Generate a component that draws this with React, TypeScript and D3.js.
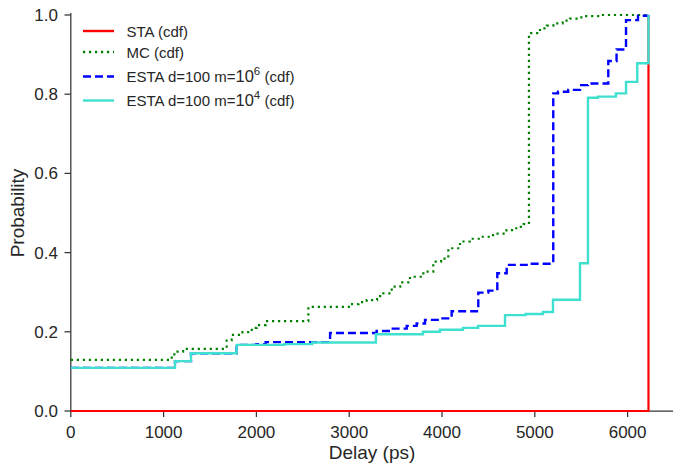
import React from "react";
import * as d3 from "d3";

const staX = [0, 6225];
const staY = [0, 1.0];

const mcX = [0, 1087, 1150, 1210, 1680, 1733, 1850, 1950, 2003, 2100, 2560, 3008, 3100, 3189, 3300, 3367, 3458, 3550, 3655, 3799, 3906, 3990, 4068, 4194, 4300, 4409, 4550, 4695, 4800, 4880, 4937, 5056, 5130, 5200, 5300, 5379, 5450, 5523, 5700, 6225];
const mcY = [0.129, 0.143, 0.15, 0.157, 0.178, 0.192, 0.199, 0.21, 0.217, 0.227, 0.263, 0.27, 0.275, 0.28, 0.29, 0.297, 0.314, 0.325, 0.339, 0.352, 0.377, 0.385, 0.411, 0.428, 0.435, 0.44, 0.448, 0.457, 0.465, 0.472, 0.954, 0.966, 0.973, 0.979, 0.986, 0.991, 0.994, 0.997, 1.0, 1.0];

const e6X = [0, 1123, 1295, 1787, 2000, 2100, 2794, 3296, 3440, 3620, 3727, 3817, 3978, 4104, 4391, 4499, 4596, 4697, 4950, 5199, 5250, 5360, 5487, 5573, 5792, 5881, 5983, 6112, 6225];
const e6Y = [0.109, 0.126, 0.146, 0.167, 0.169, 0.174, 0.197, 0.202, 0.208, 0.215, 0.221, 0.23, 0.234, 0.252, 0.299, 0.304, 0.348, 0.369, 0.372, 0.802, 0.806, 0.811, 0.823, 0.827, 0.884, 0.913, 0.987, 0.998, 1.0];

const e4X = [0, 1123, 1295, 1787, 2300, 2600, 3288, 3795, 3978, 4226, 4389, 4679, 4900, 5088, 5196, 5487, 5573, 5680, 5874, 5983, 6104, 6225];
const e4Y = [0.109, 0.126, 0.146, 0.167, 0.169, 0.173, 0.194, 0.2, 0.205, 0.21, 0.215, 0.242, 0.245, 0.25, 0.281, 0.373, 0.791, 0.794, 0.802, 0.831, 0.878, 1.0];

const xTicks = [0, 1000, 2000, 3000, 4000, 5000, 6000];
const yTicks = [0, 0.2, 0.4, 0.6, 0.8, 1.0];

const W = 673, H = 464;
const FONT = "'Liberation Sans', Arial, sans-serif";
const TXT = "#262626";

export default function App() {
  const x = d3.scaleLinear().domain([0, 6500]).range([70.8, 674]);
  const y = d3.scaleLinear().domain([0, 1]).range([411, 15]);
  const mk = (xs: number[], ys: number[]) =>
    d3.line<number>().x((_, i) => x(xs[i])).y((v) => y(v)).curve(d3.curveStepAfter)(ys) || "";

  const series = [
    { xs: staX, ys: staY, color: "#ff0000", dash: "", w: 2.2 },
    { xs: mcX, ys: mcY, color: "#008000", dash: "2.2,3.8", w: 2.2 },
    { xs: e6X, ys: e6Y, color: "#0000ff", dash: "8,4", w: 2.4 },
    { xs: e4X, ys: e4Y, color: "#40e0d0", dash: "", w: 2.4 },
  ];
  const legend = [
    { color: "#ff0000", dash: "", label: ["STA (cdf)"] },
    { color: "#008000", dash: "2.2,3.8", label: ["MC (cdf)"] },
    { color: "#0000ff", dash: "8,4", label: ["ESTA d=100 m=", "10", "6", " (cdf)"] },
    { color: "#40e0d0", dash: "", label: ["ESTA d=100 m=", "10", "4", " (cdf)"] },
  ];
  const legY = [31, 52, 76.5, 100.5];

  return (
    <svg width={W} height={H} style={{ position: "absolute", left: 0, top: 0, background: "#fff" }} fontFamily={FONT}>
      <rect width={W} height={H} fill="#fff" />
      <line x1={70.8} x2={70.8} y1={13} y2={411} stroke="#333" strokeWidth={1.25} />
      <line x1={70.8} x2={674} y1={411} y2={411} stroke="#333" strokeWidth={1.25} />
      {xTicks.map((t) => (
        <g key={"x" + t}>
          <line x1={x(t)} x2={x(t)} y1={411} y2={417} stroke="#333" strokeWidth={1.25} />
          <text x={x(t)} y={438} textAnchor="middle" fontSize={17} fill={TXT}>{t}</text>
        </g>
      ))}
      {yTicks.map((t) => (
        <g key={"y" + t}>
          <line x1={64.5} x2={70.8} y1={y(t)} y2={y(t)} stroke="#333" strokeWidth={1.25} />
          <text x={58} y={y(t) + 6} textAnchor="end" fontSize={17} fill={TXT}>{t.toFixed(1)}</text>
        </g>
      ))}
      <text x={372} y={459} textAnchor="middle" fontSize={19} fill={TXT}>Delay (ps)</text>
      <text transform="translate(24,213) rotate(-90)" textAnchor="middle" fontSize={19} fill={TXT}>Probability</text>
      {series.map((s, i) => (
        <path key={i} d={mk(s.xs, s.ys)} fill="none" stroke={s.color} strokeWidth={s.w} strokeDasharray={s.dash || undefined} />
      ))}
      {legend.map((l, i) => (
        <g key={"l" + i}>
          <line x1={83} x2={114} y1={legY[i]} y2={legY[i]} stroke={l.color} strokeWidth={2.4} strokeDasharray={l.dash || undefined} />
          <text x={126.5} y={legY[i] + 5.5} fontSize={15} fill={TXT}>
            {l.label[0]}
            {l.label.length > 1 && (
              <>
                <tspan fontSize={16.5}>{l.label[1]}</tspan>
                <tspan dy={-7} fontSize={11.5}>{l.label[2]}</tspan>
                <tspan dy={7}>{l.label[3]}</tspan>
              </>
            )}
          </text>
        </g>
      ))}
    </svg>
  );
}
